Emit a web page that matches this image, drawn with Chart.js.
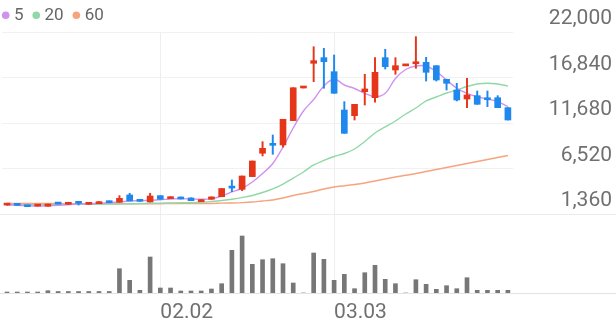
<!DOCTYPE html>
<html>
<head>
<meta charset="utf-8">
<script src="https://cdn.jsdelivr.net/npm/chart.js@4.4.1/dist/chart.umd.min.js"></script>
<style>
  html, body { margin: 0; padding: 0; background: #fff; }
</style>
</head>
<body>
<canvas id="stockChart" width="616" height="321"></canvas>
<script>
Chart.defaults.font.family = "Roboto, sans-serif";
Chart.defaults.color = '#6f6f6f';

// trading days (2026)
const dates = [
  '01.12', '01.13', '01.14', '01.15', '01.16', '01.19', '01.20', '01.21', '01.22', '01.23',
  '01.26', '01.27', '01.28', '01.29', '01.30', '02.02', '02.03', '02.04', '02.05', '02.06',
  '02.09', '02.10', '02.11', '02.12', '02.13', '02.19', '02.20', '02.23', '02.24', '02.25',
  '02.26', '02.27', '03.03', '03.04', '03.05', '03.06', '03.09', '03.10', '03.11', '03.12',
  '03.13', '03.16', '03.17', '03.18', '03.19', '03.20', '03.23', '03.24', '03.25', '03.26',
];
const tickLabels = ['02.02', '03.03'];
const priceTicks = [22000, 16840, 11680, 6520, 1360];

const opens = [
  2370, 2360, 2350, 2255, 2240, 2505, 2460, 2590, 2460, 2530,
  2840, 2690, 3520, 2950, 2720, 3440, 3100, 3290, 3180, 2760,
  3030, 3320, 4450, 4160, 5600, 8250, 9300, 9190, 11950, 15650,
  18450, 19090, 17500, 13150, 12510, 15230, 14550, 19090, 17690, 18160,
  18400, 18560, 18180, 16640, 15420, 14400, 14780, 14520, 14550, 13420,
];
const highs = [
  2390, 2360, 2350, 2280, 2490, 2505, 2690, 2760, 2610, 2760,
  2840, 3440, 3710, 2950, 3710, 3440, 3320, 3290, 3180, 2980,
  3300, 4250, 5220, 5670, 7370, 9560, 10320, 12100, 15680, 15700,
  20330, 20150, 19390, 14100, 13800, 17200, 19090, 20040, 19090, 18200,
  21470, 19130, 18180, 16640, 16180, 16750, 15310, 15310, 14780, 13420,
];
const lows = [
  2370, 2340, 2190, 2255, 2240, 2485, 2460, 2380, 2460, 2530,
  2640, 2690, 2840, 2800, 2720, 3030, 3100, 3060, 2870, 2760,
  3030, 3320, 3890, 4000, 5600, 7940, 8130, 8930, 11950, 15650,
  16360, 15620, 15050, 10510, 12020, 13720, 14030, 17800, 17200, 18160,
  17880, 16440, 16440, 15420, 14180, 13420, 13800, 13530, 13420, 12020,
];
const closes = [
  2390, 2340, 2190, 2280, 2490, 2485, 2690, 2570, 2610, 2760,
  2640, 3140, 2840, 2800, 3400, 3030, 3320, 3060, 2870, 2980,
  3300, 4250, 4300, 5670, 7370, 8810, 9150, 12100, 15680, 15700,
  18750, 18630, 15050, 10510, 13800, 15540, 17430, 18070, 18180, 18200,
  18560, 17430, 16560, 16180, 14290, 14860, 13800, 14320, 13420, 12020,
];
const volumes = [
  100, 100, 100, 100, 230, 150, 150, 150, 150, 150,
  150, 2430, 1270, 270, 3600, 500, 500, 200, 200, 200,
  400, 930, 4270, 5700, 2870, 3330, 3430, 2930, 1000, 0,
  4000, 3370, 1270, 1870, 430, 2030, 2770, 1370, 930, 0,
  1330, 870, 370, 730, 430, 1530, 270, 270, 270, 270,
];
const ma5 = [
  2380, 2350, 2300, 2270, 2300, 2350, 2420, 2500, 2530, 2580,
  2640, 2720, 2840, 2870, 2920, 2980, 3060, 3100, 3060, 3030,
  3100, 3400, 3860, 4280, 4990, 5950, 7090, 8960, 11110, 13040,
  14350, 15880, 16670, 15990, 15590, 15050, 14660, 15050, 16730, 17750,
  18140, 18140, 17500, 16560, 15620, 15050, 14660, 14400, 14100, 13530,
];
const ma20 = [
  2420, 2420, 2420, 2420, 2420, 2440, 2440, 2460, 2460, 2470,
  2500, 2500, 2520, 2540, 2560, 2590, 2610, 2630, 2650, 2690,
  2780, 2890, 3030, 3230, 3460, 3800, 4200, 4760, 5440, 6120,
  6920, 7430, 7880, 8220, 8730, 9580, 10550, 11230, 11910, 12700,
  13380, 14180, 14630, 15080, 15420, 15820, 16100, 16180, 16100, 15880,
];
const ma60 = [
  2550, 2550, 2550, 2550, 2550, 2550, 2530, 2530, 2530, 2530,
  2530, 2530, 2530, 2530, 2530, 2530, 2550, 2550, 2550, 2550,
  2550, 2590, 2610, 2650, 2720, 2840, 2950, 3180, 3460, 3690,
  3910, 4200, 4420, 4570, 4710, 4880, 5100, 5330, 5560, 5750,
  5950, 6180, 6410, 6630, 6860, 7090, 7320, 7540, 7770, 8000,
];
const maNames = ['5', '20', '60'];

const upColor = '#e6361a';
const downColor = '#1e88ee';
const maColors = ['#cf92f0', '#90d9a6', '#f6a47f'];
const candleColors = opens.map((o, i) => (closes[i] >= o ? upColor : downColor));

// price scale range, volume scale range (volume sits under the price panel)
const priceMin = -7599;
const priceMax = 22000;
const volumeMax = 26100;

const panelLines = {
  id: 'panelLines',
  beforeDatasetsDraw(chart) {
    const { ctx, width } = chart;
    const yPrice = Math.round(chart.scales.y.getPixelForValue(priceTicks[priceTicks.length - 1])) + 0.5;
    const yVol = Math.round(chart.scales.yv.getPixelForValue(0)) + 0.5;
    ctx.save();
    ctx.lineWidth = 1;
    ctx.strokeStyle = '#ececec';
    ctx.beginPath();
    ctx.moveTo(0, yPrice);
    ctx.lineTo(width, yPrice);
    ctx.stroke();
    ctx.strokeStyle = '#e3e3e3';
    ctx.beginPath();
    ctx.moveTo(0, yVol);
    ctx.lineTo(width, yVol);
    ctx.stroke();
    ctx.restore();
  },
};

const maLegend = {
  id: 'maLegend',
  afterDraw(chart) {
    const { ctx } = chart;
    ctx.save();
    ctx.font = "17px Roboto, sans-serif";
    ctx.textBaseline = 'middle';
    let x = 2;
    maNames.forEach((name, i) => {
      ctx.fillStyle = maColors[i];
      ctx.beginPath();
      ctx.arc(x + 3.7, 15.3, 3.8, 0, Math.PI * 2);
      ctx.fill();
      ctx.fillStyle = '#666666';
      ctx.fillText(name, x + 12, 15.5);
      x += 12 + ctx.measureText(name).width + 9;
    });
    ctx.restore();
  },
};

const maLine = (label, data, color, order) => ({
  type: 'line',
  label: label,
  data: data,
  yAxisID: 'y',
  borderColor: color,
  borderWidth: 1.4,
  pointRadius: 0,
  tension: 0.35,
  order: order,
});

const config = {
  type: 'bar',
  data: {
    labels: dates,
    datasets: [
      {
        label: 'body',
        data: opens.map((o, i) => [o, closes[i]]),
        backgroundColor: candleColors,
        barThickness: 6,
        minBarLength: 2,
        grouped: false,
        yAxisID: 'y',
        order: 0,
      },
      {
        label: 'wick',
        data: lows.map((l, i) => [l, highs[i]]),
        backgroundColor: candleColors,
        barThickness: 1.3,
        grouped: false,
        yAxisID: 'y',
        order: 1,
      },
      maLine(maNames[0], ma5, maColors[0], 2),
      maLine(maNames[1], ma20, maColors[1], 3),
      maLine(maNames[2], ma60, maColors[2], 4),
      {
        label: 'volume',
        data: volumes,
        backgroundColor: '#777777',
        barThickness: 4,
        grouped: false,
        yAxisID: 'yv',
        order: 5,
      },
    ],
  },
  options: {
    responsive: false,
    animation: false,
    layout: { padding: { top: 32, right: 4, left: 0, bottom: 0 } },
    plugins: {
      legend: { display: false },
      tooltip: { enabled: false },
    },
    scales: {
      x: {
        offset: true,
        grid: {
          offset: false,
          drawTicks: false,
          color: (c) => (tickLabels.includes(dates[c.index]) ? '#eeeeee' : 'rgba(0,0,0,0)'),
        },
        border: { display: false },
        ticks: {
          autoSkip: false,
          maxRotation: 0,
          align: 'start',
          padding: 7,
          font: { size: 21 },
          color: '#707070',
          callback: (v, i) => (tickLabels.includes(dates[i]) ? dates[i] : ''),
        },
        afterFit: (s) => { s.height = 28; },
      },
      y: {
        position: 'right',
        min: priceMin,
        max: priceMax,
        afterBuildTicks: (s) => { s.ticks = priceTicks.map((v) => ({ value: v })); },
        afterFit: (s) => { s.width = 99; },
        grid: { color: '#f1f1f1', drawTicks: false },
        border: { display: false },
        ticks: {
          crossAlign: 'far',
          labelOffset: -13,
          font: { size: 21 },
          color: '#707070',
          callback: (v) => v.toLocaleString('en-US'),
        },
      },
      yv: {
        display: false,
        min: 0,
        max: volumeMax,
      },
    },
  },
  plugins: [panelLines, maLegend],
};

new Chart(document.getElementById('stockChart'), config);
</script>
</body>
</html>
